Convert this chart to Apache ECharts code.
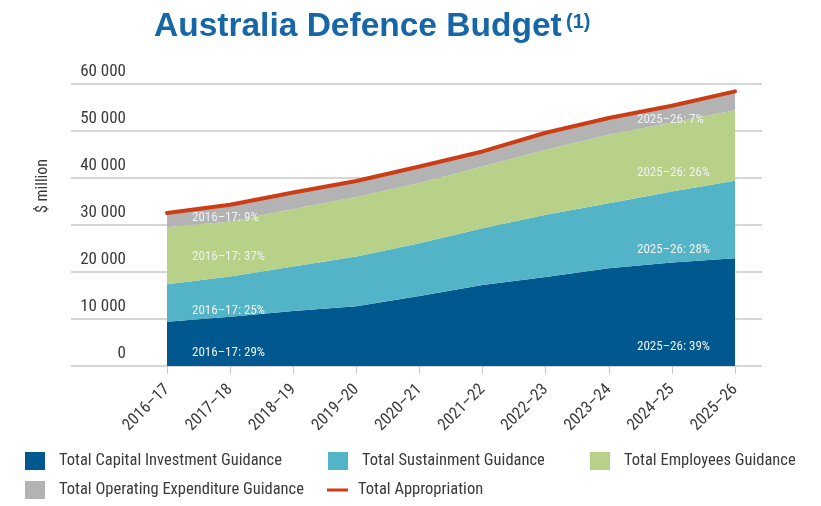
<!DOCTYPE html>
<html>
<head>
<meta charset="utf-8">
<script src="https://cdn.jsdelivr.net/npm/echarts@6/dist/echarts.min.js"></script>
<style>
  html, body { margin: 0; padding: 0; background: #ffffff; }
  #chart { width: 821px; height: 506px; }
</style>
</head>
<body>
<div id="chart"></div>
<script>
// Financial years on the horizontal axis
const categories = ['2016–17', '2017–18', '2018–19', '2019–20', '2020–21',
                    '2021–22', '2022–23', '2023–24', '2024–25', '2025–26'];

// Funding lines, $ million
const capitalInvestment    = [9400, 10500, 11700, 12700, 14900, 17250, 18950, 20800, 22000, 22950];
const sustainment          = [8000, 8520, 9450, 10580, 11230, 12080, 13210, 13850, 15130, 16450];
const employees            = [12140, 11720, 12230, 12670, 12780, 13120, 13850, 14550, 14690, 15000];
const operatingExpenditure = [3000, 3550, 3530, 3410, 3540, 3200, 3620, 3560, 3560, 4030];
const totalAppropriation   = [32540, 34290, 36910, 39360, 42450, 45650, 49630, 52760, 55380, 58430];

// Value axis ticks
const yMin = 0;
const yMax = 60000;
const yStep = 10000;

const seriesNames = [
  'Total Capital Investment Guidance',
  'Total Sustainment Guidance',
  'Total Employees Guidance',
  'Total Operating Expenditure Guidance',
  'Total Appropriation'
];
const stacked = [capitalInvestment, sustainment, employees, operatingExpenditure];
const palette = ['#00588f', '#53b4c8', '#b7d189', '#b3b3b3', '#cc3d16'];

const narrow = '"Roboto Condensed", "Liberation Sans", Arial, sans-serif';
const titleFont = '"Liberation Sans", Arial, sans-serif';
const textGrey = '#3a3a3a';
const titleBlue = '#1767a8';

const chart = echarts.init(document.getElementById('chart'), null, { renderer: 'canvas' });

// Share of the year's total for a funding line, in whole percent
function share(arr, i) {
  return Math.round(arr[i] / totalAppropriation[i] * 100);
}

const first = 0;
const last = categories.length - 1;

// In-area annotations for the first and last year
const leftNotes = [
  { arr: capitalInvestment, y: 353 },
  { arr: sustainment, y: 311 },
  { arr: employees, y: 257 },
  { arr: operatingExpenditure, y: 218 }
];
const rightNotes = [
  { arr: capitalInvestment, y: 347 },
  { arr: sustainment, y: 250 },
  { arr: employees, y: 173 },
  { arr: operatingExpenditure, y: 120 }
];

const graphics = [];
leftNotes.forEach(n => graphics.push({
  type: 'text', z: 100,
  style: {
    text: categories[first] + ': ' + share(n.arr, first) + '%',
    x: 192, y: n.y, fill: '#eef2f4',
    font: '13px ' + narrow, textAlign: 'left', textVerticalAlign: 'middle'
  }
}));
rightNotes.forEach(n => graphics.push({
  type: 'text', z: 100,
  style: {
    text: categories[last] + ': ' + share(n.arr, last) + '%',
    x: 637, y: n.y, fill: '#eef2f4',
    font: '13px ' + narrow, textAlign: 'left', textVerticalAlign: 'middle'
  }
}));
// vertical unit label beside the value axis
graphics.push({
  type: 'text', z: 100,
  x: 43, y: 186, rotation: Math.PI / 2,
  style: {
    text: '$ million', fill: textGrey,
    font: '16px ' + narrow, textAlign: 'center', textVerticalAlign: 'middle'
  }
});

// One legend block per entry so each sits in its own column
const legendSlots = [
  { left: 25, top: 452 },
  { left: 328, top: 452 },
  { left: 590, top: 452 },
  { left: 25, top: 481 },
  { left: 327, top: 481 }
];
const legends = seriesNames.map((name, i) => {
  const isLine = i === 4;
  return {
    data: [name],
    left: legendSlots[i].left,
    top: legendSlots[i].top,
    icon: 'rect',
    itemWidth: isLine ? 21 : 20,
    itemHeight: isLine ? 3 : 18,
    itemGap: 0,
    selectedMode: false,
    padding: 0,
    textStyle: {
      fontFamily: narrow, fontSize: 16.5, color: textGrey, lineHeight: 18,
      padding: [0, 0, 0, isLine ? 5 : 9]
    }
  };
});

const areaSeries = stacked.map((arr, i) => ({
  name: seriesNames[i],
  type: 'line',
  xAxisIndex: 1,
  yAxisIndex: 1,
  stack: 'budget',
  data: arr,
  symbol: 'none',
  lineStyle: { width: 0 },
  itemStyle: { color: palette[i] },
  areaStyle: { color: palette[i], opacity: 1 },
  silent: true,
  z: 2
}));

const option = {
  animation: false,
  backgroundColor: '#ffffff',
  title: [
    {
      text: 'Australia Defence Budget',
      left: 149, top: 5,
      textStyle: { fontFamily: titleFont, fontWeight: 'bold', fontSize: 33.5, color: titleBlue }
    },
    {
      text: '(1)',
      left: 561, top: 7,
      textStyle: { fontFamily: titleFont, fontWeight: 'bold', fontSize: 20, color: titleBlue }
    }
  ],
  legend: legends,
  grid: [
    // full-width frame that carries the horizontal gridlines and value labels
    { left: 71, right: 59, top: 84, bottom: 140 },
    // plotting area between the first and last financial year
    { left: 167, right: 86, top: 84, bottom: 140 }
  ],
  xAxis: [
    { type: 'value', gridIndex: 0, show: false, min: 0, max: 1 },
    {
      type: 'category', gridIndex: 1, data: categories, boundaryGap: false,
      axisLine: { show: false },
      axisTick: { show: true, length: 8, lineStyle: { color: '#c8c8c8', width: 1 } },
      axisLabel: {
        rotate: 45, margin: 21, fontFamily: narrow, fontSize: 16.5, color: textGrey
      }
    }
  ],
  yAxis: [
    {
      type: 'value', gridIndex: 0, min: yMin, max: yMax, interval: yStep,
      axisLine: { show: false },
      axisTick: { show: false },
      splitLine: { show: true, lineStyle: { color: '#d6d6d6', width: 2 } },
      axisLabel: {
        margin: -55, fontFamily: narrow, fontSize: 17, color: textGrey,
        verticalAlign: 'bottom', lineHeight: 17, padding: [0, 0, 4, 0],
        formatter: v => String(v).replace(/\B(?=(\d{3})+(?!\d))/g, ' ')
      }
    },
    {
      type: 'value', gridIndex: 1, min: yMin, max: yMax, interval: yStep,
      show: false, splitLine: { show: false }
    }
  ],
  series: [
    ...areaSeries,
    {
      name: seriesNames[4],
      type: 'line',
      xAxisIndex: 1,
      yAxisIndex: 1,
      data: totalAppropriation,
      symbol: 'none',
      lineStyle: { color: palette[4], width: 4, cap: 'round' },
      itemStyle: { color: palette[4] },
      silent: true,
      z: 5
    }
  ],
  graphic: graphics
};

chart.setOption(option);
</script>
</body>
</html>
